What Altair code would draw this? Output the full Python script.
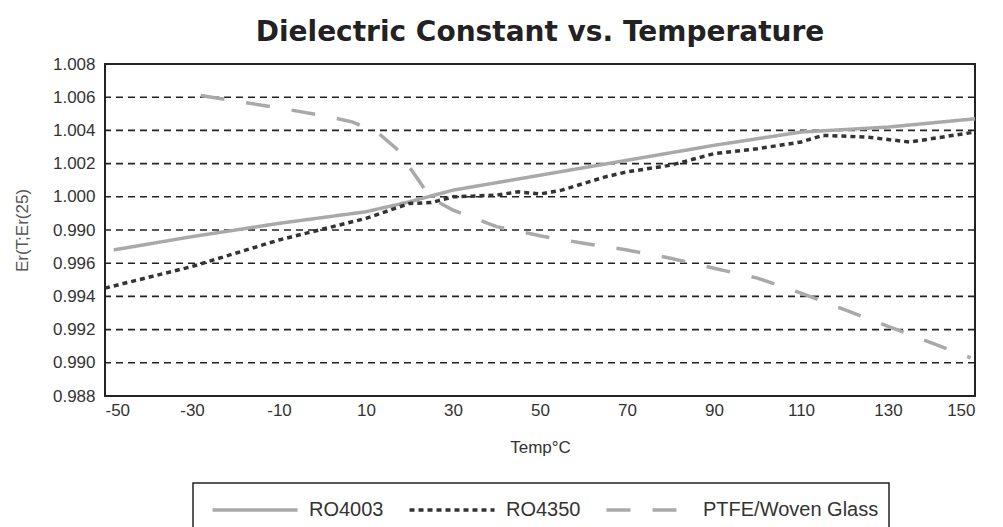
import altair as alt
import pandas as pd

# ---- data ----
ro4003_temp = [-48, -30, -10, 10, 20, 30, 50, 70, 90, 110, 130, 150]
ro4003_val = [0.9968, 0.9976, 0.9984, 0.9991, 0.9997, 1.0004, 1.0013, 1.0022, 1.0031, 1.0039, 1.0042, 1.0047]

ro4350_temp = [-50, -30, -10, 10, 20, 25, 30, 40, 45, 50, 55, 60, 65, 70, 80, 90, 100, 110, 115, 125, 135, 150]
ro4350_val = [0.9945, 0.9958, 0.9974, 0.9987, 0.9996, 0.99965, 1.0000, 1.0001, 1.0003, 1.00017, 1.0004, 1.0008,
              1.0012, 1.0015, 1.0019, 1.0026, 1.0029, 1.0033, 1.0037, 1.0036, 1.0033, 1.0039]

ptfe_temp = [-28, -10, 0, 7, 13, 17, 20.5, 25, 30, 40, 50, 60, 70, 80, 90, 100, 110, 120, 130, 140, 149]
ptfe_val = [1.0061, 1.00535, 1.0049, 1.0045, 1.0038, 1.0029, 1.0016, 0.9999, 0.9992, 0.9982, 0.99765, 0.9972,
            0.9968, 0.9963, 0.9957, 0.9951, 0.9942, 0.9932, 0.9922, 0.9912, 0.9903]

series_names = ["RO4003", "RO4350", "PTFE/Woven Glass"]
series_colors = ["#a9a9a9", "#333333", "#a9a9a9"]
series_dash = [[1, 0], [5, 4], [24, 22]]

x_ticks = [-50, -30, -10, 10, 30, 50, 70, 90, 110, 130, 150]
y_ticks = [0.988, 0.990, 0.992, 0.994, 0.996, 0.998, 1.000, 1.002, 1.004, 1.006, 1.008]
y_tick_labels = ["0.988", "0.990", "0.992", "0.994", "0.996", "0.990", "1.000", "1.002", "1.004", "1.006", "1.008"]
grid_values = [0.990, 0.992, 0.994, 0.996, 0.998, 1.000, 1.002, 1.004, 1.006]

rows = []
for name, temps, vals in zip(series_names, [ro4003_temp, ro4350_temp, ptfe_temp], [ro4003_val, ro4350_val, ptfe_val]):
    for t, v in zip(temps, vals):
        rows.append({"series": name, "temp": t, "value": v})
df = pd.DataFrame(rows)
grid_df = pd.DataFrame({"g": grid_values})

label_array = "[" + ",".join("'%s'" % s for s in y_tick_labels) + "]"

x_scale = alt.Scale(domain=[-50, 150], nice=False, zero=False)
y_scale = alt.Scale(domain=[0.988, 1.008], nice=False, zero=False)

font = "Liberation Sans Narrow, Liberation Sans, Arial"

y_axis = alt.Axis(title="Er(T;Er(25)", values=y_ticks, grid=False, ticks=False, domain=False,
                  labelExpr=label_array + "[round((datum.value-0.988)/0.002)]",
                  labelOverlap=False, labelPadding=10, titlePadding=21, titleColor="#555555")

grid = alt.Chart(grid_df).mark_rule(color="#222222", strokeWidth=1.6, strokeDash=[7, 5]).encode(
    y=alt.Y("g:Q", scale=y_scale, axis=y_axis)
)

legend = alt.Legend(title=None, orient="none", legendX=88, legendY=419)

lines = alt.Chart(df).mark_line(strokeWidth=3.5, strokeCap="butt").encode(
    x=alt.X("temp:Q", scale=x_scale,
            axis=alt.Axis(title="Temp°C", values=x_ticks, labelExpr="'' + datum.value", grid=False, ticks=False,
                          domain=False, labelPadding=6, titlePadding=21, labelOverlap=False)),
    y=alt.Y("value:Q", scale=y_scale, axis=y_axis),
    color=alt.Color("series:N", scale=alt.Scale(domain=series_names, range=series_colors), legend=legend),
    strokeDash=alt.StrokeDash("series:N", scale=alt.Scale(domain=series_names, range=series_dash), legend=legend),
)

chart = alt.layer(grid, lines).properties(
    width=870, height=332,
    title=alt.TitleParams("Dielectric Constant vs. Temperature", fontSize=28, fontWeight="bold",
                          font="DejaVu Sans", color="#222222", anchor="middle", offset=8),
    padding={"left": 5, "top": 11, "right": 5, "bottom": 5},
).configure_view(
    stroke="#222222", strokeWidth=2
).configure_axis(
    labelFont=font, labelFontSize=17, labelColor="#333333", labelOverlap=False,
    titleFont=font, titleFontSize=17, titleFontWeight="normal", titleColor="#333333",
).configure_legend(
    direction="horizontal", strokeColor="#222222", strokeWidth=1.5,
    padding=10, labelFont=font, labelFontSize=20, labelColor="#333333", labelLimit=400,
    symbolType="M-0.5,0H5.17", symbolSize=900, symbolStrokeWidth=3.5,
    columnPadding=16, labelOffset=72,
)

chart.save("out.html", embed_options={"renderer": "svg", "actions": False})
